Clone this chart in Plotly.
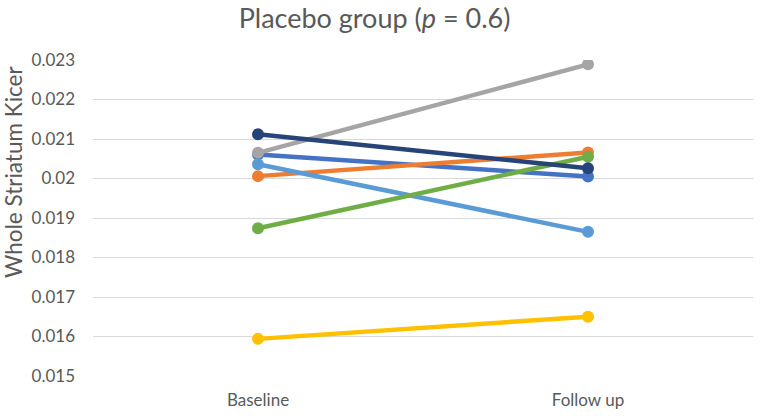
import plotly.graph_objects as go

categories = ["Baseline", "Follow up"]
series_colors = ["#4472C4", "#ED7D31", "#A5A5A5", "#FFC000", "#5B9BD5", "#70AD47", "#264478"]
series_values = [
    [0.02061, 0.02005],
    [0.02006, 0.02066],
    [0.02065, 0.02289],
    [0.01594, 0.01650],
    [0.02036, 0.01865],
    [0.01874, 0.02055],
    [0.02112, 0.02026],
]
tick_vals = [0.015, 0.016, 0.017, 0.018, 0.019, 0.020, 0.021, 0.022, 0.023]
tick_text = ["0.015", "0.016", "0.017", "0.018", "0.019", "0.02", "0.021", "0.022", "0.023"]

FONT = "Lato, Open Sans, sans-serif"
GREY = "#595959"
fig = go.Figure()
for vals, col in zip(series_values, series_colors):
    fig.add_trace(go.Scatter(
        x=categories, y=vals, mode="lines+markers",
        line=dict(color=col, width=4.5),
        marker=dict(color=col, size=12),
        showlegend=False, hoverinfo="skip",
    ))

fig.update_layout(
    width=760, height=416,
    margin=dict(l=93, r=7, t=60, b=40),
    paper_bgcolor="white", plot_bgcolor="white",
    title=dict(text="Placebo group (<i>p</i> = 0.6)", x=0.4928, xanchor="center",
               y=0.955, yanchor="middle",
               font=dict(family=FONT, size=27, color=GREY)),
    font=dict(family=FONT, color=GREY),
    annotations=[dict(text="Whole Striatum Kicer", textangle=-90,
                      xref="paper", yref="paper", x=-0.1197, y=0.6456,
                      xanchor="center", yanchor="middle", showarrow=False,
                      font=dict(family=FONT, size=22.5, color=GREY))],
)
fig.update_xaxes(type="category", range=[-0.5, 1.5], showgrid=False,
                 showline=False, ticks="", tickfont=dict(size=17, color=GREY),
                 ticklabelstandoff=12)
fig.update_yaxes(range=[0.015, 0.023], tickvals=tick_vals, ticktext=tick_text,
                 showgrid=True, gridcolor="#D9D9D9", gridwidth=1,
                 zeroline=False, showline=False, ticks="",
                 tickfont=dict(size=17, color=GREY), ticklabelstandoff=17)

fig.write_html("out.html", config={"displayModeBar": False},
               post_script="document.body.style.margin='0px';")
